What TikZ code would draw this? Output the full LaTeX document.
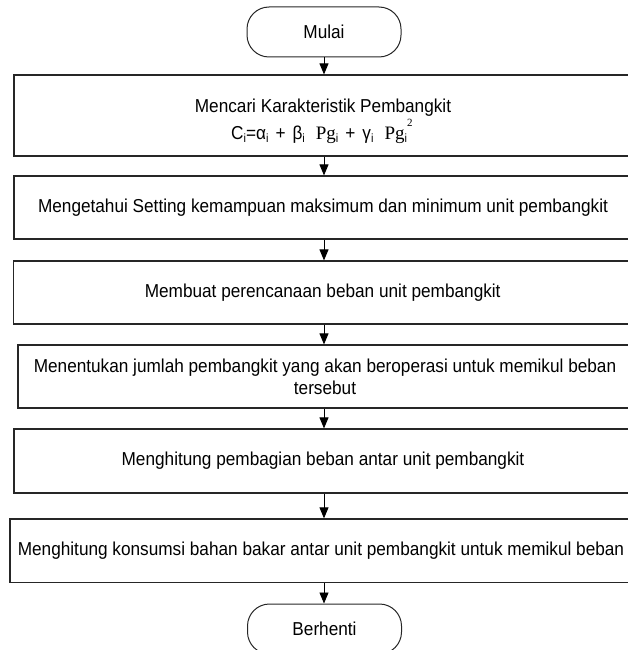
\documentclass[tikz,border=0pt]{standalone}
\usepackage{fontspec}
\setmainfont{Liberation Sans}[FakeStretch=0.92]
\newfontfamily\tmsfont{Liberation Serif}
\usetikzlibrary{arrows.meta}
% small lowered index and raised serif exponent for the cost formula
\newcommand{\lsub}[1]{\raisebox{-0.4ex}{\fontsize{12}{12}\selectfont #1}}
\newcommand{\lexp}[1]{\raisebox{1.3ex}{\fontsize{11}{11}\selectfont\tmsfont #1}}
\newcommand{\serifpg}{{\fontsize{19}{19}\selectfont\tmsfont Pg}}
\newcommand{\opgap}{\hspace{7pt}}
\newcommand{\termgap}{\hspace{11pt}}
\begin{document}
\begin{tikzpicture}[x=1pt,y=-1pt,
  every node/.style={font=\fontsize{18.7}{22}\selectfont},
  procbox/.style={draw=black!85, line width=1.2pt, rectangle, inner sep=0pt, align=center},
  terminal/.style={draw=black!85, line width=1pt, rounded corners=22pt,
    minimum width=154pt, minimum height=50pt, inner sep=0pt},
  plain/.style={inner sep=0pt},
  flow/.style={draw=black, line width=0.9pt, -{Triangle[length=11pt,width=9pt]}}]
\useasboundingbox (0,0) rectangle (628,650);
\clip (0,0) rectangle (628,650);

% terminals
\node[terminal] (start) at (324,32) {Mulai};
\node[terminal] (stop) at (324.5,629) {Berhenti};

% process steps
\node[procbox, minimum width=618pt, minimum height=81pt] (b1) at (323,115.5) {};
\node[plain] (t1) at (323,108) {Mencari Karakteristik Pembangkit};
\node[plain, anchor=west] (f1) at (231,131)
  {C\lsub{i}=α\lsub{i}\opgap+\opgap β\lsub{i}\termgap\serifpg\lsub{i}\opgap+\opgap
   γ\lsub{i}\termgap\serifpg\lsub{i}\lexp{2}};
\node[procbox, minimum width=618pt, minimum height=63pt] (b2) at (323,207.5)
  {Mengetahui Setting kemampuan maksimum dan minimum unit pembangkit};
\node[procbox, minimum width=619pt, minimum height=63pt] (b3) at (322.7,292.5)
  {Membuat perencanaan beban unit pembangkit};
\node[procbox, minimum width=614pt, minimum height=63pt] (b4) at (325,376.5)
  {Menentukan jumlah pembangkit yang akan beroperasi untuk memikul beban\\tersebut};
\node[procbox, minimum width=618pt, minimum height=64pt] (b5) at (323,461)
  {Menghitung pembagian beban antar unit pembangkit};
\node[procbox, minimum width=622pt, minimum height=63.7pt] (b6) at (321,550.8)
  {Menghitung konsumsi bahan bakar antar unit pembangkit untuk memikul beban};

% connectors
\draw[flow] (start.south) -- (b1.north -| start.south);
\draw[flow] (b1.south -| start.south) -- (b2.north -| start.south);
\draw[flow] (b2.south -| start.south) -- (b3.north -| start.south);
\draw[flow] (b3.south -| start.south) -- (b4.north -| start.south);
\draw[flow] (b4.south -| start.south) -- (b5.north -| start.south);
\draw[flow] (b5.south -| start.south) -- (b6.north -| start.south);
\draw[flow] (b6.south -| start.south) -- (stop.north -| start.south);
\end{tikzpicture}
\end{document}
